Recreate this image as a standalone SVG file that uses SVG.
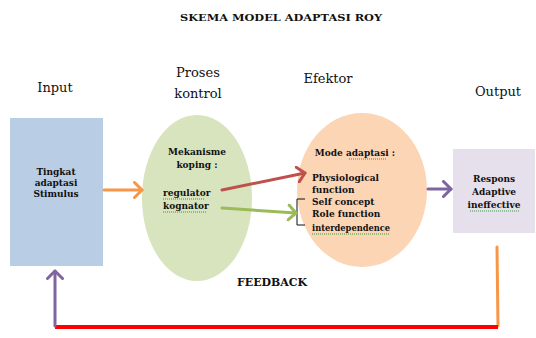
<svg xmlns="http://www.w3.org/2000/svg" width="536" height="338" viewBox="0 0 536 338">
<style>
.lbl{font-family:"DejaVu Serif","Liberation Serif",serif;font-size:13px;fill:#111}
.t{font-family:"DejaVu Serif","Liberation Serif",serif;font-size:9px;font-weight:bold;fill:#111}
.c{text-anchor:middle}
.sq{stroke:#3a9a3a;stroke-width:1;stroke-dasharray:1 1;fill:none}
.ln{fill:none;stroke-width:3;stroke-linecap:round}
</style>
<defs>
<marker id="hO" markerUnits="userSpaceOnUse" markerWidth="16" markerHeight="18" refX="9" refY="9" orient="auto"><path d="M1.5,1.5 L9,9 L1.5,16.5" fill="none" stroke="#f79646" stroke-width="3" stroke-linecap="round" stroke-linejoin="round"/></marker>
<marker id="hR" markerUnits="userSpaceOnUse" markerWidth="16" markerHeight="18" refX="9" refY="9" orient="auto"><path d="M1.5,1.5 L9,9 L1.5,16.5" fill="none" stroke="#c0504d" stroke-width="3" stroke-linecap="round" stroke-linejoin="round"/></marker>
<marker id="hG" markerUnits="userSpaceOnUse" markerWidth="16" markerHeight="18" refX="9" refY="9" orient="auto"><path d="M1.5,1.5 L9,9 L1.5,16.5" fill="none" stroke="#9bbb59" stroke-width="3" stroke-linecap="round" stroke-linejoin="round"/></marker>
<marker id="hP" markerUnits="userSpaceOnUse" markerWidth="16" markerHeight="18" refX="9" refY="9" orient="auto"><path d="M1.5,1.5 L9,9 L1.5,16.5" fill="none" stroke="#8064a2" stroke-width="3" stroke-linecap="round" stroke-linejoin="round"/></marker>
</defs>
<rect width="536" height="338" fill="#fff"/>
<text x="281" y="21" class="t c" textLength="202" lengthAdjust="spacingAndGlyphs" style="font-size:10px">SKEMA MODEL ADAPTASI ROY</text>
<text x="55" y="92" class="lbl c">Input</text>
<text x="198" y="77" class="lbl c">Proses</text>
<text x="198" y="98" class="lbl c">kontrol</text>
<text x="328" y="83" class="lbl c">Efektor</text>
<text x="498" y="96" class="lbl c">Output</text>
<g id="input">
<rect x="10" y="118" width="93" height="148" fill="#b9cde5"/>
<text class="t c" x="56" y="175">Tingkat</text>
<text class="t c" x="56" y="186">adaptasi</text>
<text class="t c" x="56" y="197">Stimulus</text>
</g>
<g id="proses">
<ellipse cx="197" cy="198" rx="55" ry="83" fill="#d7e4bd"/>
<text class="t c" x="197" y="155">Mekanisme</text>
<text class="t c" x="197" y="168">koping :</text>
<text class="t" x="163" y="196">regulator</text>
<text class="t" x="163" y="209">kognator</text>
<path class="sq" d="M163,199 H205 M163,212 H207"/>
</g>
<g id="efektor">
<ellipse cx="362" cy="190" rx="65" ry="77" fill="#fcd5b5"/>
<text class="t c" x="355" y="156">Mode adaptasi :</text>
<path class="sq" d="M349,159 H387"/>
<text class="t" x="312" y="181">Physiological</text>
<text class="t" x="312" y="193">function</text>
<text class="t" x="312" y="205">Self concept</text>
<text class="t" x="312" y="217">Role function</text>
<text class="t" x="312" y="231" textLength="78" lengthAdjust="spacingAndGlyphs">interdependence</text>
<path class="sq" d="M312,234 H390"/>
<path d="M305,199 H297 V225 H305" fill="none" stroke="#111" stroke-width="1"/>
</g>
<g id="output">
<rect x="453" y="149" width="82" height="84" fill="#e5e0ec"/>
<text class="t c" x="494" y="182">Respons</text>
<text class="t c" x="494" y="195">Adaptive</text>
<text class="t c" x="494" y="208">ineffective</text>
<path class="sq" d="M470,211 H520"/>
</g>
<text class="t c" x="272" y="286" textLength="70" lengthAdjust="spacingAndGlyphs" style="font-size:10.5px">FEEDBACK</text>
<g id="connectors">
<line class="ln" x1="104" y1="190" x2="142" y2="190" stroke="#f79646" marker-end="url(#hO)"/>
<line class="ln" x1="222" y1="190" x2="305" y2="173" stroke="#c0504d" marker-end="url(#hR)"/>
<line class="ln" x1="222" y1="208" x2="296" y2="213" stroke="#9bbb59" marker-end="url(#hG)"/>
<line class="ln" x1="428" y1="189" x2="451" y2="189" stroke="#8064a2" marker-end="url(#hP)"/>
<line class="ln" x1="497" y1="247" x2="498" y2="326" stroke="#f79646"/>
<line x1="55" y1="327" x2="498" y2="327" stroke="#ff0000" stroke-width="4"/>
<line class="ln" x1="55" y1="326" x2="55" y2="271" stroke="#8064a2" marker-end="url(#hP)"/>
</g>
</svg>
